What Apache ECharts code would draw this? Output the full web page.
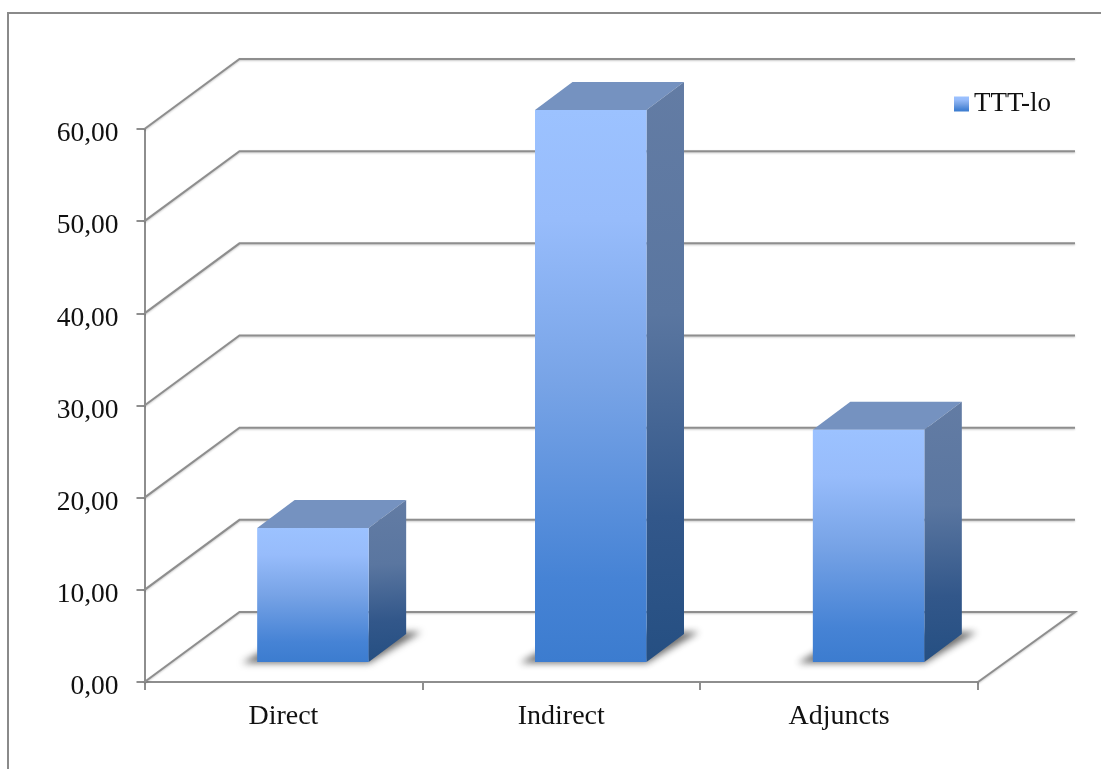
<!DOCTYPE html>
<html>
<head>
<meta charset="utf-8">
<style>html,body{margin:0;padding:0;background:#fff}#chart{width:1101px;height:769px}</style>
<script src="https://cdn.jsdelivr.net/npm/echarts@6/dist/echarts.min.js"></script>
</head>
<body>
<div id="chart"></div>
<script>
const categories = ['Direct', 'Indirect', 'Adjuncts'];
const seriesName = 'TTT-lo';
const seriesValues = [14.55, 59.9, 25.2];
const yTicks = [0, 10, 20, 30, 40, 50, 60];

// Pseudo-3D projection, in pixels
const FONT = '"Liberation Serif", serif';
const LINE = '#8e8e8e';
const WALL = [95, -70];      // offset of the back wall from the front plane
const WALL_REACH = 97;       // how far the back lines run past the x axis end
const BAR_SHIFT = [29.5, -20]; // bars stand part way back on the floor
const BAR_WIDTH = 111.5;
const BAR_DEPTH = [37.5, -28];
const SHADOW_PARK = 3000;    // caster sits off-canvas so only its blur shows

const grad = (stops, x2, y2) => ({
  type: 'linear', x: 0, y: 0, x2: x2, y2: y2,
  colorStops: stops.map(s => ({ offset: s[0], color: s[1] }))
});
const FRONT_FILL = grad([[0, '#9cc2ff'], [0.2, '#97bcfb'], [0.5, '#77a3e6'], [0.85, '#4683d5'], [1, '#3c7ccf']], 0, 1);
const SIDE_FILL = grad([[0, '#637ca4'], [0.4, '#5a76a0'], [0.75, '#32578a'], [1, '#254f82']], 0.25, 1);

const lineStyle = {
  fill: 'none', stroke: LINE, lineWidth: 2,
  shadowColor: 'rgba(0,0,0,0.22)', shadowBlur: 2, shadowOffsetY: 1
};

// Side-wall and back-wall grid lines for one axis value
function renderWall(params, api) {
  const p = api.coord([0, api.value(0)]);
  const rect = params.coordSys;
  const x0 = rect.x, y0 = p[1];
  const isFloor = api.value(0) === 0;
  const bx = x0 + WALL[0], by = y0 + WALL[1];
  const endX = rect.x + rect.width + WALL_REACH;
  const pts = [[x0, y0], [bx, by], [endX, by]];
  if (isFloor) pts.push([rect.x + rect.width, y0]);
  return { type: 'polyline', shape: { points: pts }, style: lineStyle, silent: true };
}

function renderBar(params, api) {
  const c = api.coord([api.value(0), api.value(1)]);
  const b = api.coord([api.value(0), 0]);
  const l = c[0] + BAR_SHIFT[0] - BAR_WIDTH / 2;
  const r = l + BAR_WIDTH;
  const t = c[1] + BAR_SHIFT[1];
  const f = b[1] + BAR_SHIFT[1];
  const dx = BAR_DEPTH[0], dy = BAR_DEPTH[1];
  const castPts = [[l - 15, f + 1], [r, f + 1], [r + dx + 15, f + dy - 2], [l + dx, f + dy - 2]];
  return {
    type: 'group', silent: true,
    children: [
      { // soft shadow cast on the floor
        type: 'polygon',
        shape: { points: castPts.map(q => [q[0] - SHADOW_PARK, q[1]]) },
        style: { fill: '#000', shadowColor: 'rgba(30,30,30,0.65)', shadowBlur: 7, shadowOffsetX: SHADOW_PARK }
      },
      {
        type: 'polygon',
        shape: { points: [[l, t], [r, t], [r + dx, t + dy], [l + dx, t + dy]] },
        style: { fill: '#7592c0' }
      },
      {
        type: 'polygon',
        shape: { points: [[r, t], [r + dx, t + dy], [r + dx, f + dy], [r, f]] },
        style: { fill: SIDE_FILL }
      },
      {
        type: 'rect',
        shape: { x: l, y: t, width: BAR_WIDTH, height: f - t },
        style: { fill: FRONT_FILL }
      }
    ]
  };
}

const chart = echarts.init(document.getElementById('chart'), null, { renderer: 'canvas' });
chart.setOption({
  animation: false,
  backgroundColor: '#fff',
  graphic: [{
    type: 'polyline',
    shape: { points: [[8, 769], [8, 13], [1101, 13]] },
    style: { fill: 'none', stroke: '#8a8a8a', lineWidth: 2 },
    silent: true
  }],
  grid: { left: 144.5, top: 129, width: 833.5, height: 553, containLabel: false },
  legend: {
    data: [seriesName], left: 949, top: 84, orient: 'vertical', icon: 'rect',
    itemWidth: 15, itemHeight: 15, selectedMode: false,
    textStyle: { fontFamily: FONT, fontSize: 27, color: '#111', lineHeight: 30 }
  },
  xAxis: {
    type: 'category', data: categories,
    axisLine: { lineStyle: { color: LINE, width: 2 } },
    axisTick: { show: true, length: 8, lineStyle: { color: LINE, width: 2 } },
    axisLabel: { fontFamily: FONT, fontSize: 28, color: '#111', margin: 21 },
    splitLine: { show: false }
  },
  yAxis: {
    type: 'value', min: 0, max: 60, interval: 10,
    axisLine: { show: true, lineStyle: { color: LINE, width: 2 } },
    axisTick: { show: true, length: 8, lineStyle: { color: LINE, width: 2 } },
    axisLabel: {
      fontFamily: FONT, fontSize: 27.5, color: '#111', margin: 26,
      verticalAlign: 'top', lineHeight: 10,
      formatter: v => v.toFixed(2).replace('.', ',')
    },
    splitLine: { show: false }
  },
  series: [
    {
      name: 'walls', type: 'custom', coordinateSystem: 'cartesian2d',
      data: yTicks.map(v => [v]), encode: { y: 0 },
      renderItem: renderWall, silent: true, z: 1
    },
    {
      name: seriesName, type: 'custom', coordinateSystem: 'cartesian2d',
      data: seriesValues.map((v, i) => [i, v]), encode: { x: 0, y: 1 },
      itemStyle: { color: FRONT_FILL },
      renderItem: renderBar, z: 3
    }
  ]
});
</script>
</body>
</html>
